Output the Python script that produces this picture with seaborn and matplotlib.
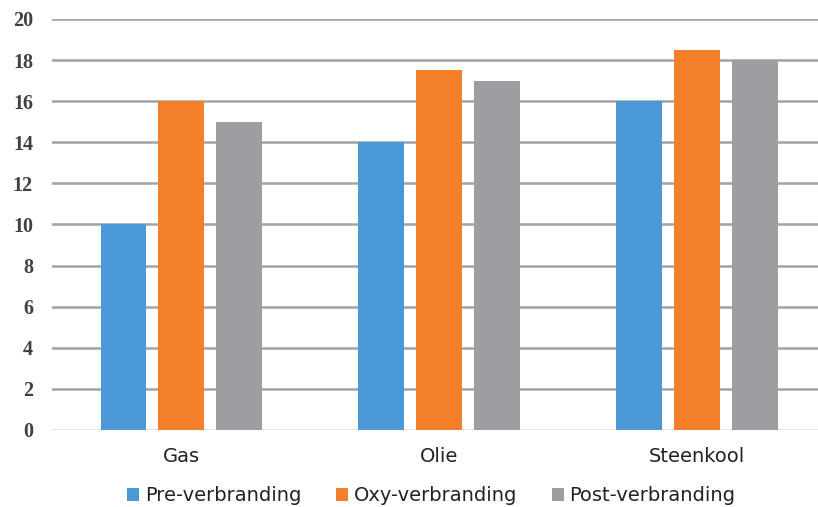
import numpy as np
import pandas as pd
import matplotlib
matplotlib.use('Agg')
import matplotlib.pyplot as plt
import seaborn as sns

# ----------- Data -----------
categories = ['Gas', 'Olie', 'Steenkool']
series = ['Pre-verbranding', 'Oxy-verbranding', 'Post-verbranding']
pre_vals = [10, 14, 16]
oxy_vals = [16, 17.5, 18.5]
post_vals = [15, 17, 18]
colors = ['#4A98D6', '#F37F2B', '#9C9EA1']

df = pd.DataFrame({
    'categorie': categories * 3,
    'serie': np.repeat(series, 3),
    'waarde': pre_vals + oxy_vals + post_vals,
})

sns.set_style('white')

fig = plt.figure(figsize=(8.18, 5.07), dpi=100)
ax = fig.add_axes([0.064, 0.152, 0.936, 0.8107])

sns.barplot(data=df, x='categorie', y='waarde', hue='serie',
            palette=colors, width=0.673, gap=0.21, saturation=1,
            linewidth=0, ax=ax, legend=True)

# ----------- Axes styling -----------
ax.set_ylim(0, 20)
ax.set_xlim(-0.5, 2.47)
ax.set_yticks(range(0, 21, 2))
ax.set_xlabel('')
ax.set_ylabel('')
for s in ax.spines.values():
    s.set_visible(False)
ax.set_axisbelow(True)
ax.yaxis.grid(True, color='#A3A3A3', linewidth=1.8)
ax.get_ygridlines()[0].set_color('#DCDCDC')
ax.tick_params(axis='both', length=0)
ax.tick_params(axis='y', pad=14)
ax.tick_params(axis='x', pad=12)
for lbl in ax.get_yticklabels():
    lbl.set_fontfamily('Liberation Serif')
    lbl.set_fontweight('bold')
    lbl.set_fontsize(14.5)
    lbl.set_color('#404040')
for lbl in ax.get_xticklabels():
    lbl.set_fontfamily('DejaVu Sans')
    lbl.set_fontsize(14)
    lbl.set_color('#222222')

# ----------- Legend -----------
handles, labels = ax.get_legend_handles_labels()
ax.legend(handles, labels, loc='upper center', bbox_to_anchor=(0.495, -0.095),
          ncol=3, frameon=False, fontsize=14, handlelength=0.6, handleheight=0.6,
          handletextpad=0.3, columnspacing=1.8, labelcolor='#222222')

plt.savefig('out.png', dpi=100)
